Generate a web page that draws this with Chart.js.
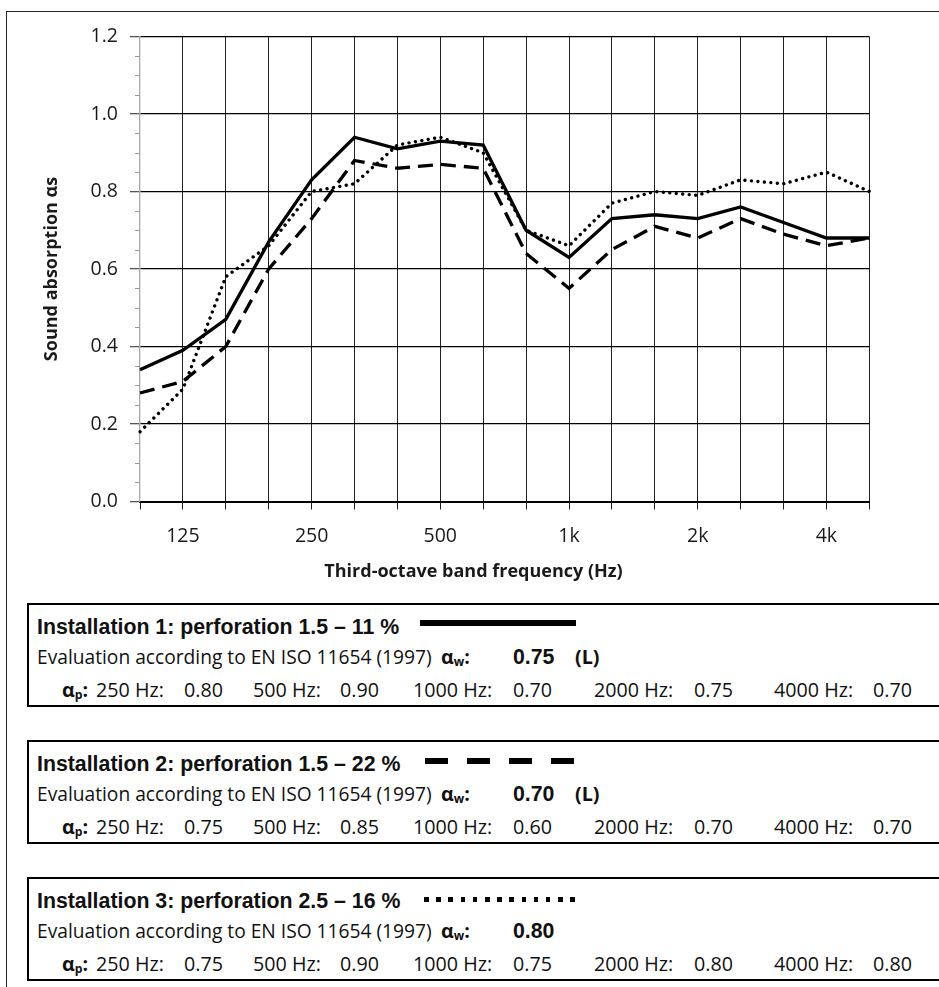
<!DOCTYPE html>
<html>
<head>
<meta charset="utf-8">
<title>Sound absorption - third-octave bands</title>
<script src="https://cdn.jsdelivr.net/npm/chart.js@4.4.1/dist/chart.umd.min.js"></script>
<style>
    html, body { margin: 0; padding: 0; background: #fff; }
    body { width: 939px; height: 987px; position: relative; overflow: hidden; }
    #frame { position: absolute; left: 6px; top: 11px; width: 1200px; height: 1200px;
             border-left: 1.5px solid #222; border-top: 1.5px solid #222; }
    #chart-wrap { position: absolute; left: 8px; top: 12px; width: 931px; height: 588px; }
    .box { position: absolute; left: 27px; width: 1000px; height: 100px; border: 2px solid #000; }
    .txt { position: absolute; top: 0; white-space: nowrap; line-height: 1.2; color: #111; }
    .txt sub { font-size: 0.62em; vertical-align: -0.18em; line-height: 0; }
    .bl { display: inline-block; width: 0; height: 0; }
    .mark { position: absolute; }
</style>
</head>
<body>
<div id="frame"></div>
<div id="chart-wrap"><canvas id="absorption-chart" width="931" height="588"></canvas></div>

<script>
/* ============================================= */
/*                    Data                       */
/* ============================================= */

const bands = ['100', '125', '160', '200', '250', '315', '400', '500', '630',
               '800', '1000', '1250', '1600', '2000', '2500', '3150', '4000', '5000'];
const bandTicks = ['', '125', '', '', '250', '', '', '500', '', '',
                   '1k', '', '', '2k', '', '', '4k', ''];

const inst1 = [0.34, 0.39, 0.47, 0.67, 0.83, 0.94, 0.91, 0.93, 0.92,
               0.70, 0.63, 0.73, 0.74, 0.73, 0.76, 0.72, 0.68, 0.68];
const inst2 = [0.28, 0.31, 0.40, 0.60, 0.73, 0.88, 0.86, 0.87, 0.86,
               0.64, 0.55, 0.65, 0.71, 0.68, 0.73, 0.69, 0.66, 0.68];
const inst3 = [0.18, 0.29, 0.58, 0.66, 0.80, 0.82, 0.92, 0.94, 0.90,
               0.70, 0.66, 0.77, 0.80, 0.79, 0.83, 0.82, 0.85, 0.80];

const yMin = 0;
const yMax = 1.2;
const yStep = 0.2;
const yMinorStep = 0.05;

const installNames = ['Installation 1: perforation 1.5 – 11 %',
                      'Installation 2: perforation 1.5 – 22 %',
                      'Installation 3: perforation 2.5 – 16 %'];
const alphaW = ['0.75', '0.70', '0.80'];
const alphaWFlag = ['(L)', '(L)', ''];
const pBands = ['250 Hz:', '500 Hz:', '1000 Hz:', '2000 Hz:', '4000 Hz:'];
const alphaP1 = [0.80, 0.90, 0.70, 0.75, 0.70];
const alphaP2 = [0.75, 0.85, 0.60, 0.70, 0.70];
const alphaP3 = [0.75, 0.90, 0.75, 0.80, 0.80];


/* ============================================= */
/*                 Line Chart                    */
/* ============================================= */

Chart.defaults.font.family = "'Open Sans', 'Noto Sans', sans-serif";
Chart.defaults.color = '#1a1a1a';

// small grey ticks every 0.05 on the left axis
const minorTicks = {
    id: 'minorTicks',
    afterDraw(chart) {
        const y = chart.scales.y;
        const ctx = chart.ctx;
        const left = chart.chartArea.left;
        ctx.save();
        ctx.strokeStyle = '#9a9a9a';
        ctx.lineWidth = 1;
        for (let i = 0; i * yMinorStep <= yMax + 1e-9; i++) {
            if (i % 4 === 0) continue;
            const py = Math.round(y.getPixelForValue(i * yMinorStep)) + 0.5;
            ctx.beginPath();
            ctx.moveTo(left - 5, py);
            ctx.lineTo(left, py);
            ctx.stroke();
        }
        ctx.restore();
    }
};

const absorptionCanvas = document.getElementById('absorption-chart');

let absorptionChart = new Chart(absorptionCanvas, {
    type: 'line',
    data: {
        labels: bands,
        datasets: [{
            label: installNames[0],
            data: inst1,
            borderColor: '#000',
            borderWidth: 3.3,
            pointRadius: 0
        }, {
            label: installNames[1],
            data: inst2,
            borderColor: '#000',
            borderWidth: 3.3,
            borderDash: [15, 8],
            pointRadius: 0
        }, {
            label: installNames[2],
            data: inst3,
            borderColor: '#000',
            borderWidth: 3.4,
            borderDash: [0.001, 6.5],
            borderCapStyle: 'round',
            pointRadius: 0
        }]
    },
    options: {
        responsive: false,
        animation: false,
        devicePixelRatio: 1,
        layout: {
            padding: { left: 0, top: 24.5, right: 0, bottom: 0 }
        },
        scales: {
            x: {
                type: 'category',
                offset: false,
                afterFit: s => { s.height = 59.7; },
                grid: {
                    color: ctx => ctx.index === 0 ? 'rgba(0,0,0,0)' : '#222',
                    lineWidth: 1,
                    tickLength: 8,
                    tickColor: '#222'
                },
                border: { display: true, color: '#000', width: 2 },
                ticks: {
                    autoSkip: false,
                    maxRotation: 0,
                    padding: 15,
                    font: { size: 19.5 },
                    callback: (v, i) => bandTicks[i]
                }
            },
            y: {
                min: yMin,
                max: yMax,
                afterFit: s => { s.width = 132; },
                grid: {
                    color: '#000',
                    lineWidth: 1.3,
                    tickLength: 10,
                    tickColor: '#555'
                },
                border: { display: true, color: '#a8a8a8', width: 1.3 },
                ticks: {
                    stepSize: yStep,
                    padding: 12,
                    font: { size: 19.5 },
                    callback: v => v.toFixed(1)
                },
                title: {
                    display: true,
                    text: 'Sound absorption αs',
                    font: { size: 18, weight: 'bold' },
                    padding: { top: 33, bottom: 0 }
                }
            },
            // empty right-hand strip, keeps the plot narrower than the frame
            spacer: {
                position: 'right',
                display: true,
                afterFit: s => { s.width = 69.7; },
                grid: { display: false },
                border: { display: false },
                ticks: { display: false }
            }
        },
        plugins: {
            legend: { display: false },
            tooltip: { enabled: false },
            title: {
                display: true,
                position: 'bottom',
                text: 'Third-octave band frequency (Hz)',
                color: '#1a1a1a',
                font: { size: 18, weight: 'bold' },
                padding: { top: 0, bottom: 17.2 }
            }
        }
    },
    plugins: [minorTicks]
});


/* ============================================= */
/*               Evaluation boxes                */
/* ============================================= */

const headFont = "bold 21.3px 'Liberation Sans', Arial, sans-serif";
const evalFont = "19.2px 'Open Sans', 'Noto Sans', sans-serif";
const bodyFont = "19.7px 'Open Sans', 'Noto Sans', sans-serif";
const boldFont = "bold 19.7px 'Open Sans', 'Noto Sans', sans-serif";

const boxTops = [603, 740, 877];
const pLabelX = [96, 253, 413, 594, 774];
const pValueX = [184, 340, 513, 694, 873];
const alphaP = [alphaP1, alphaP2, alphaP3];

// legend samples next to each heading
const legendMarks = [
    { dy: 17, left: 420, width: 156, height: 6, bg: '#000' },
    { dy: 18, left: 425, width: 149, height: 6,
      bg: 'repeating-linear-gradient(90deg, #000 0 23px, transparent 23px 42px)' },
    { dy: 20, left: 424, width: 151, height: 4.5,
      bg: 'repeating-linear-gradient(90deg, #000 0 4.5px, transparent 4.5px 12.2px)' }
];

// place text so that its baseline sits on the given y
function put(html, x, baseline, font) {
    const d = document.createElement('div');
    d.className = 'txt';
    d.style.left = x + 'px';
    d.style.font = font;
    d.style.lineHeight = '1.2';
    d.innerHTML = html + '<span class="bl"></span>';
    document.body.appendChild(d);
    const marker = d.querySelector('.bl');
    d.style.top = (baseline - marker.offsetTop) + 'px';
}

boxTops.forEach((top, i) => {
    const box = document.createElement('div');
    box.className = 'box';
    box.style.top = top + 'px';
    document.body.appendChild(box);

    const m = legendMarks[i];
    const mark = document.createElement('div');
    mark.className = 'mark';
    mark.style.left = m.left + 'px';
    mark.style.top = (top + m.dy) + 'px';
    mark.style.width = m.width + 'px';
    mark.style.height = m.height + 'px';
    mark.style.background = m.bg;
    document.body.appendChild(mark);

    put(installNames[i], 37, top + 31, headFont);

    put('Evaluation according to EN ISO 11654 (1997)', 37, top + 61, evalFont);
    put('α<sub>w</sub>:', 441, top + 61, boldFont);
    put(alphaW[i], 513, top + 61, headFont);
    if (alphaWFlag[i]) {
        put(alphaWFlag[i], 575, top + 61, boldFont);
    }

    put('α<sub>p</sub>:', 62, top + 94, boldFont);
    for (let j = 0; j < pBands.length; j++) {
        put(pBands[j], pLabelX[j], top + 94, bodyFont);
        put(alphaP[i][j].toFixed(2), pValueX[j], top + 94, bodyFont);
    }
});
</script>
</body>
</html>
